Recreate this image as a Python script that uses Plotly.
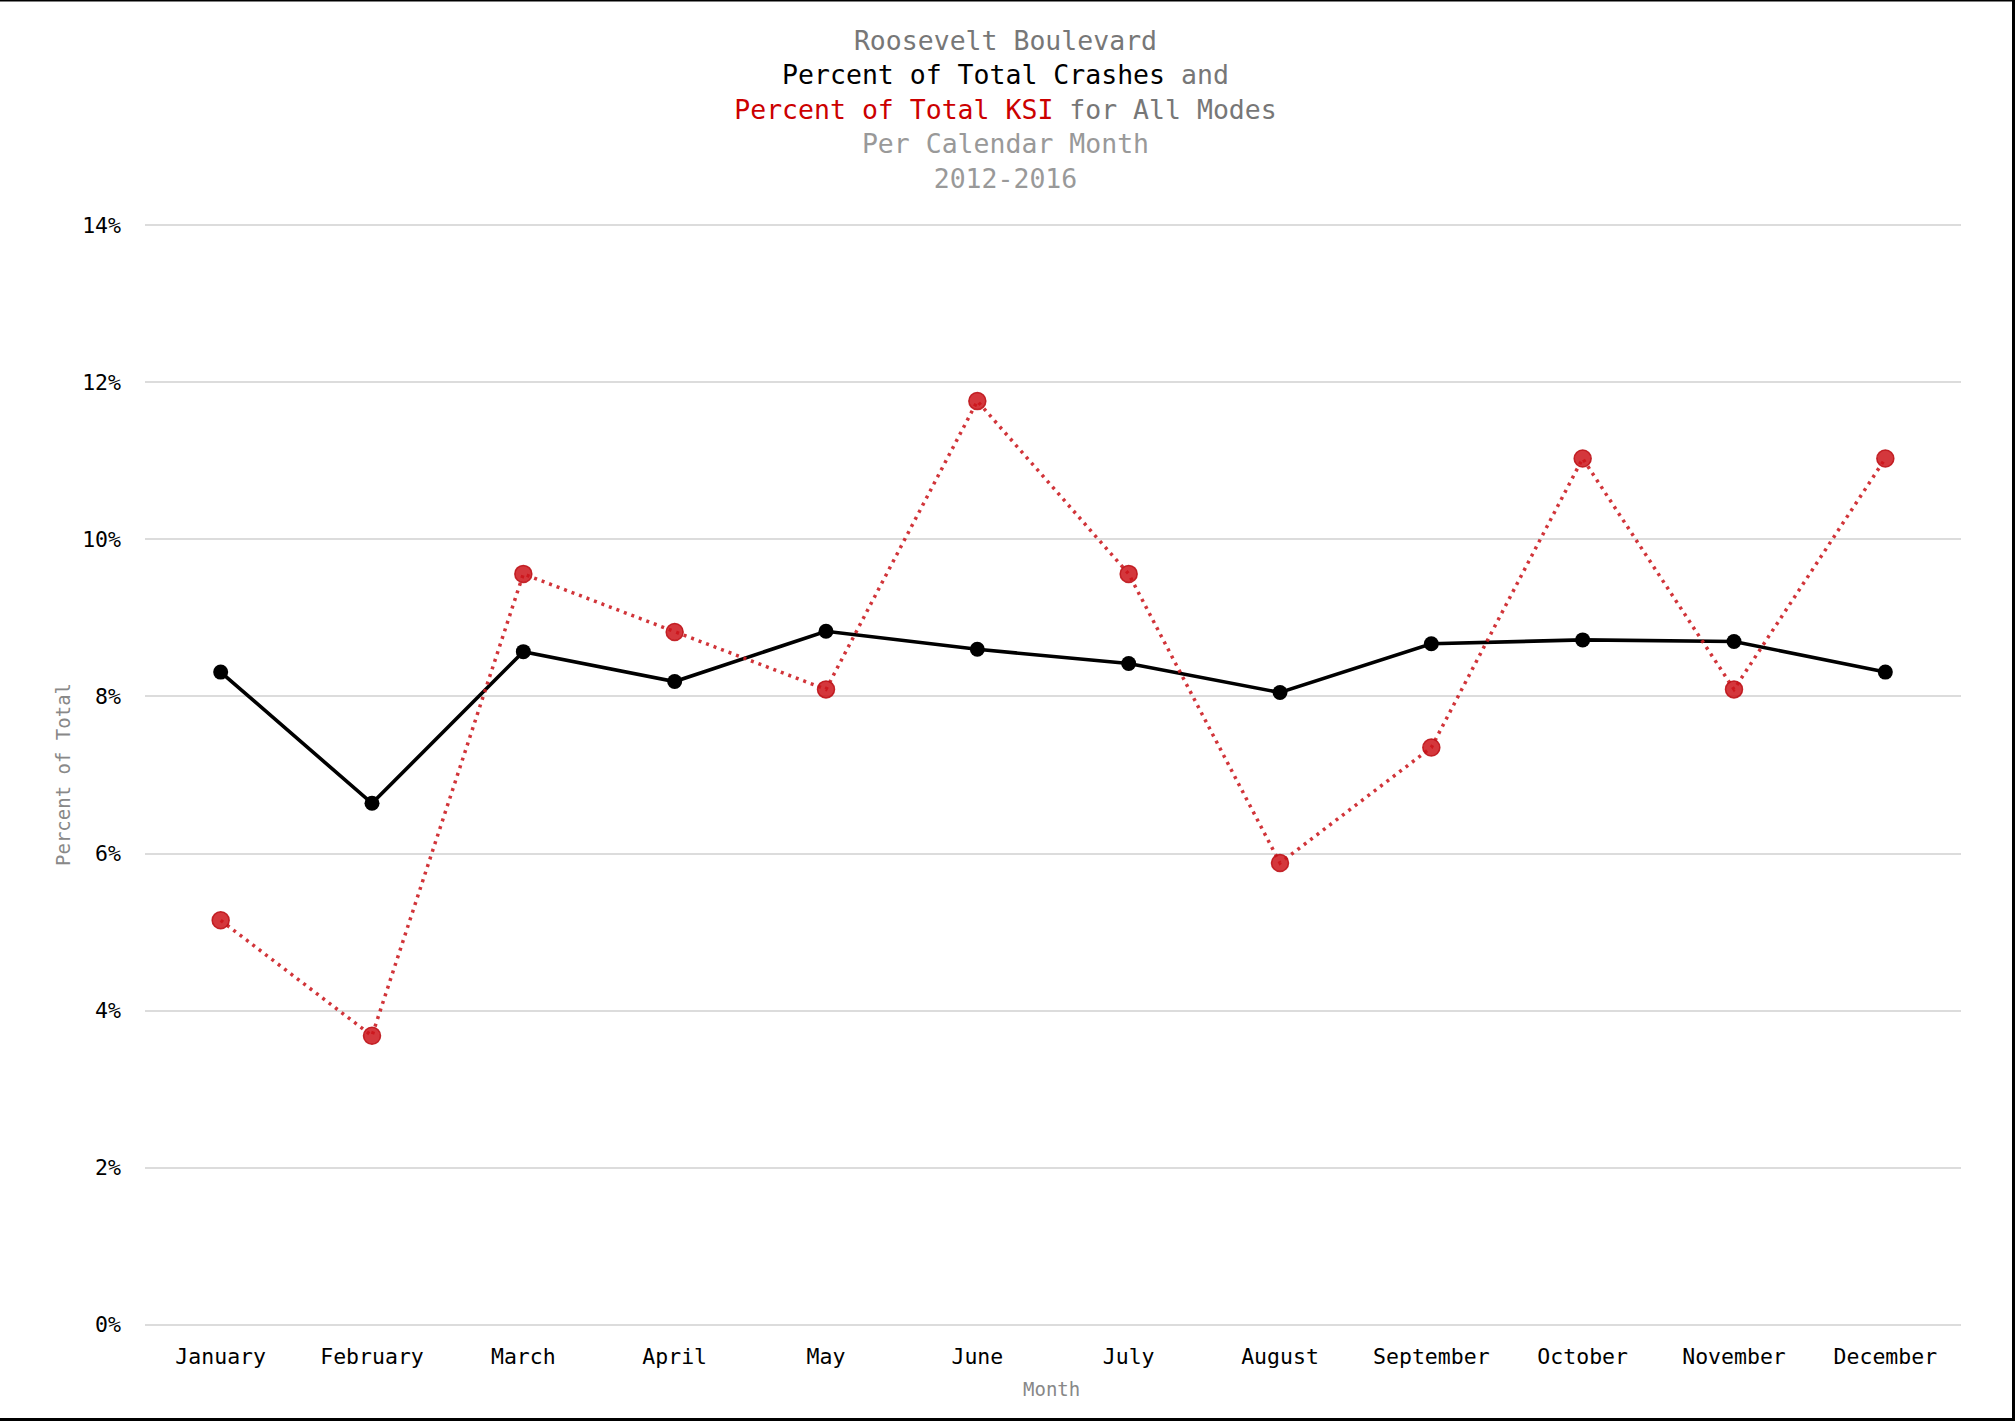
import plotly.graph_objects as go

months = ["January", "February", "March", "April", "May", "June", "July",
          "August", "September", "October", "November", "December"]
crashes_pct = [8.31, 6.64, 8.57, 8.19, 8.83, 8.60, 8.42, 8.05, 8.67, 8.72, 8.70, 8.31]
ksi_pct = [5.15, 3.68, 9.56, 8.82, 8.09, 11.76, 9.56, 5.88, 7.35, 11.03, 8.09, 11.03]
y_ticks = [0, 2, 4, 6, 8, 10, 12, 14]
y_tick_labels = [f"{v}%" for v in y_ticks]

FONT = "DejaVu Sans Mono"
W, H = 2015, 1421
ML, MR, MT, MB = 145, 54, 222, 93
PW, PH = W - ML - MR, H - MT - MB

def px_x(p):
    return (p - ML) / PW

def px_y(p):
    return (H - MB - p) / PH

fig = go.Figure()
fig.add_trace(go.Scatter(
    x=months, y=crashes_pct, mode="lines+markers", name="Percent of Total Crashes",
    line=dict(color="#000000", width=3.6),
    marker=dict(color="#000000", size=15),
))
fig.add_trace(go.Scatter(
    x=months, y=ksi_pct, mode="lines+markers", name="Percent of Total KSI",
    line=dict(color="rgba(204,30,36,0.9)", width=3.5, dash="3px,5px"),
    marker=dict(color="rgba(204,20,26,0.85)", size=17,
                line=dict(color="rgba(190,20,26,0.9)", width=1.5)),
))

title_text = (
    "<span style='color:#777777'>Roosevelt Boulevard</span><br>"
    "<span style='color:#000000'>Percent of Total Crashes</span>"
    "<span style='color:#777777'> and</span><br>"
    "<span style='color:#cc0000'>Percent of Total KSI</span>"
    "<span style='color:#777777'> for All Modes</span><br>"
    "<span style='color:#999999'>Per Calendar Month</span><br>"
    "<span style='color:#999999'>2012-2016</span>"
)

shapes = [
    dict(type="line", xref="paper", yref="paper", x0=px_x(0), x1=px_x(W),
         y0=px_y(0.75), y1=px_y(0.75), line=dict(color="#000000", width=1.5)),
    dict(type="line", xref="paper", yref="paper", x0=px_x(W - 1.5), x1=px_x(W - 1.5),
         y0=px_y(0), y1=px_y(H), line=dict(color="#000000", width=3)),
    dict(type="line", xref="paper", yref="paper", x0=px_x(0), x1=px_x(W),
         y0=px_y(H - 1.5), y1=px_y(H - 1.5), line=dict(color="#000000", width=3)),
]

fig.update_layout(
    width=W, height=H,
    margin=dict(l=ML, r=MR, t=MT, b=MB, autoexpand=False),
    paper_bgcolor="#ffffff", plot_bgcolor="#ffffff",
    showlegend=False,
    font=dict(family=FONT, color="#000000"),
    title=dict(text=title_text, x=0.499, xref="container", xanchor="center",
               y=1 - 50 / H, yref="container", yanchor="top",
               font=dict(family=FONT, size=26.5)),
    xaxis=dict(
        type="category", range=[-0.5, 11.5], showgrid=False, zeroline=False,
        showline=False, ticks="", tickfont=dict(family=FONT, size=21.5, color="#000000"),
        ticklabelstandoff=13,
    ),
    yaxis=dict(
        range=[-0.04, 14.04], tickvals=y_ticks, ticktext=y_tick_labels,
        showgrid=True, gridcolor="#dcdcdc", gridwidth=2, zeroline=False,
        showline=False, ticks="", tickfont=dict(family=FONT, size=21.5, color="#000000"),
        ticklabelstandoff=23,
    ),
    annotations=[
        dict(text="Month", xref="paper", yref="paper", x=px_x(1051), y=px_y(1389),
             xanchor="center", yanchor="middle", showarrow=False,
             font=dict(family=FONT, size=19, color="#888888")),
        dict(text="Percent of Total", xref="paper", yref="paper", x=px_x(63), y=px_y(775),
             xanchor="center", yanchor="middle", showarrow=False, textangle=-90,
             font=dict(family=FONT, size=19, color="#888888")),
    ],
    shapes=shapes,
)

fig.write_html("out.html", config={"displayModeBar": False},
               post_script="document.body.style.margin='0px';document.body.style.overflow='hidden';")
